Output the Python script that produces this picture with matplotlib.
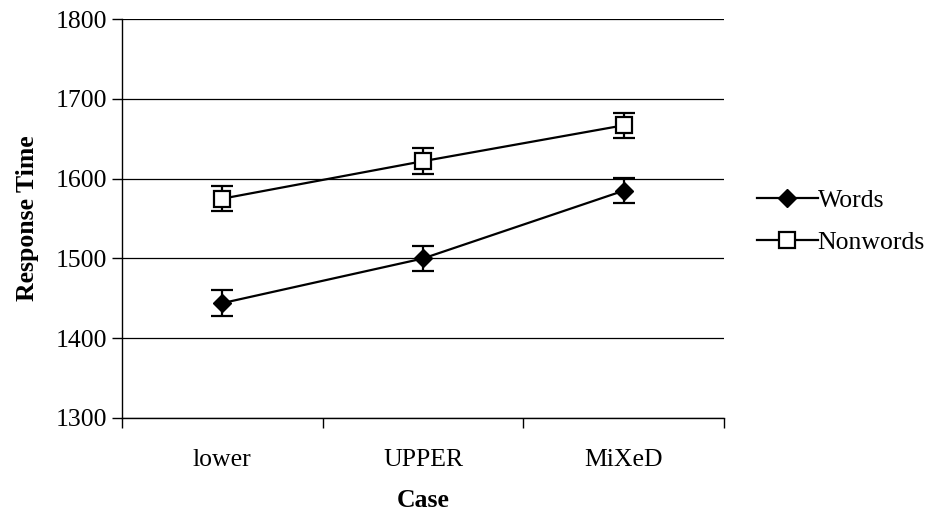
import numpy as np
import matplotlib.pyplot as plt
from matplotlib.lines import Line2D

categories = ['lower', 'UPPER', 'MiXeD']
words = [1444, 1500, 1585]
words_err = [16, 16, 16]
nonwords = [1575, 1622, 1667]
nonwords_err = [16, 16, 16]

plt.rcParams['font.family'] = ['Liberation Serif', 'DejaVu Serif']
plt.rcParams['font.size'] = 18.5

fig = plt.figure(figsize=(9.26, 5.16), dpi=100)
ax = fig.add_axes([0.1317, 0.19, 0.6503, 0.7727])

x = np.arange(len(categories))

ax.errorbar(x, words, yerr=words_err, color='black', marker='D', markersize=9.5,
            markerfacecolor='black', linewidth=1.6, elinewidth=1.6, capsize=8,
            capthick=1.6, zorder=3)
ax.errorbar(x, nonwords, yerr=nonwords_err, color='black', marker='s', markersize=11,
            markerfacecolor='white', markeredgewidth=1.6, linewidth=1.6, elinewidth=1.6,
            capsize=8, capthick=1.6, zorder=3)

ax.set_ylim(1300, 1800)
ax.set_yticks(np.arange(1300, 1801, 100))
ax.set_xlim(-0.5, 2.5)
ax.set_xticks(np.arange(-0.5, 2.6, 1))
ax.set_xticklabels([])
ax.set_xticks(x, minor=True)
ax.set_xticklabels(categories, minor=True)
ax.tick_params(axis='x', which='minor', length=0, pad=22)
ax.tick_params(axis='x', which='major', direction='out', length=7, width=1)
ax.tick_params(axis='y', direction='out', length=7, width=1, pad=4)

ax.grid(axis='y', color='black', linewidth=0.9)
ax.set_axisbelow(True)
ax.spines['top'].set_visible(False)
ax.spines['right'].set_visible(False)
ax.spines['left'].set_linewidth(1)
ax.spines['bottom'].set_linewidth(1)

ax.set_xlabel('Case', fontweight='bold', labelpad=13)
ax.set_ylabel('Response Time', fontweight='bold', labelpad=12)

handles = [
    Line2D([], [], color='black', marker='D', markersize=9.5, markerfacecolor='black',
           linewidth=1.6, label='Words'),
    Line2D([], [], color='black', marker='s', markersize=11, markerfacecolor='white',
           markeredgewidth=1.6, linewidth=1.6, label='Nonwords'),
]
ax.legend(handles=handles, loc='center left', bbox_to_anchor=(1.055, 0.4925), frameon=False,
          borderaxespad=0, borderpad=0, handlelength=2.35, handletextpad=0.0,
          labelspacing=0.75)

plt.savefig('out.png', dpi=100)
